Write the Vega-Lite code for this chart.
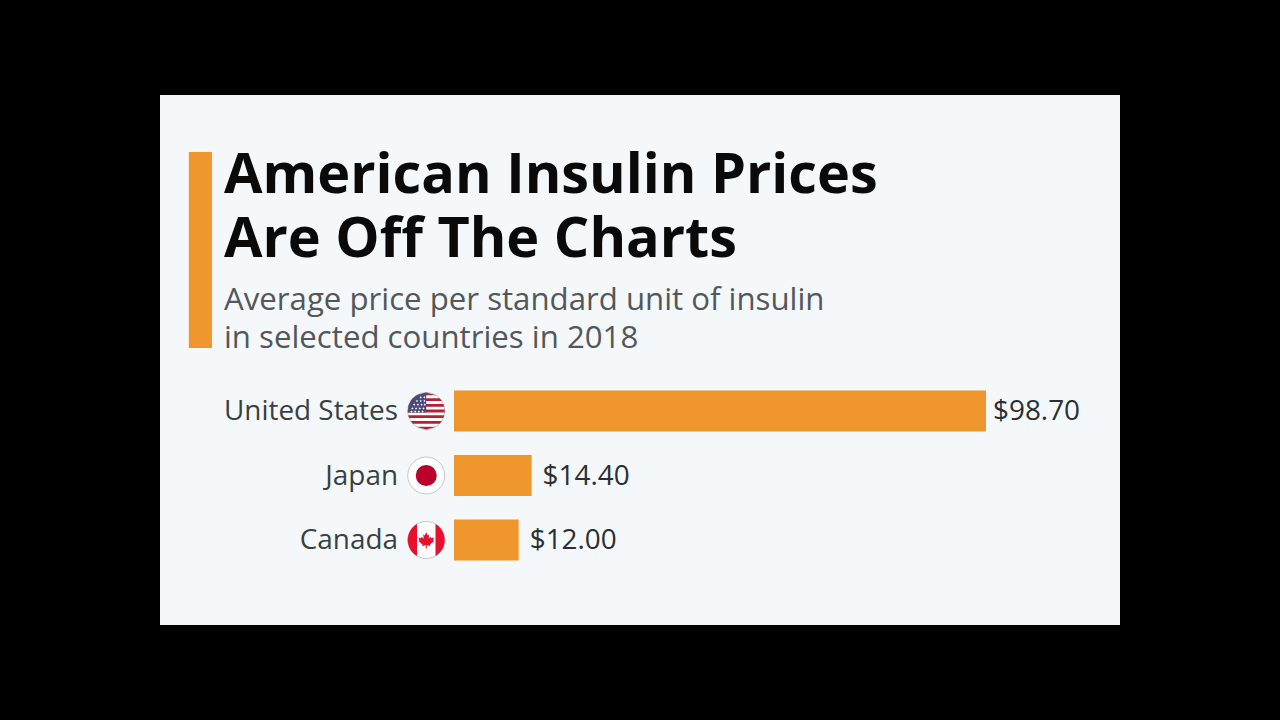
{
"$schema":"https://vega.github.io/schema/vega-lite/v6.json",
"width":960,"height":530,
"autosize":{"type":"none"},
"padding":{"left":160,"top":95,"right":160,"bottom":95},
"background":"#000000",
"view":{"fill":"#f4f8fb","stroke":null},
"title":{"text":["American Insulin Prices","Are Off The Charts"],"subtitle":["Average price per standard unit of insulin","in selected countries in 2018"],"anchor":"start","frame":"group","dx":64,"offset":-260,"font":"Open Sans","fontSize":55.8,"fontWeight":700,"lineHeight":64,"color":"#0a0a0a","subtitleFont":"Open Sans","subtitleFontSize":31.2,"subtitleFontWeight":400,"subtitleLineHeight":38,"subtitleColor":"#53575a","subtitlePadding":16.5},
"datasets":{
"prices":[{"country":"United States","price":98.7},{"country":"Japan","price":14.4},{"country":"Canada","price":12.0}],
"accent":[{"x0":-49.2,"x1":-44.9,"top":57,"bottom":253}]
},
"data":{"name":"prices"},
"encoding":{
"y":{"field":"country","type":"nominal","axis":null,"sort":null,"scale":{"domain":["United States","Japan","Canada"],"range":[283.75,477.25],"paddingInner":0.364,"paddingOuter":0.182}}
},
"resolve":{"scale":{"y":"independent"}},
"layer":[
{"data":{"name":"accent"},"mark":{"type":"rect","fill":"#ef962d"},
 "encoding":{"x":{"field":"x0","type":"quantitative","axis":null,"scale":{"domain":[-54.545,123.56],"nice":false,"zero":false}},"x2":{"field":"x1"},
 "y":{"field":"top","type":"quantitative","axis":null,"scale":{"domain":[0,530],"range":[0,530],"nice":false,"zero":false}},"y2":{"field":"bottom"}}},
{"mark":{"type":"bar","fill":"#ef962d"},"encoding":{"x":{"field":"price","type":"quantitative"}}},
{"mark":{"type":"text","align":"right","baseline":"middle","dx":-56,"dy":1,"font":"Open Sans","fontSize":27.9,"fill":"#3a3f42"},"encoding":{"x":{"datum":0,"type":"quantitative"},"text":{"field":"country"}}},
{"transform":[{"filter":"datum.price > 50"}],"mark":{"type":"text","align":"left","baseline":"middle","dx":7,"dy":1,"font":"Open Sans","fontSize":27.9,"fill":"#2b2f32"},"encoding":{"x":{"field":"price","type":"quantitative"},"text":{"field":"price","format":"$.2f"}}},
{"transform":[{"filter":"datum.price < 50"}],"mark":{"type":"text","align":"left","baseline":"middle","dx":11,"dy":1,"font":"Open Sans","fontSize":27.9,"fill":"#2b2f32"},"encoding":{"x":{"field":"price","type":"quantitative"},"text":{"field":"price","format":"$.2f"}}},
{"mark":{"type":"point","shape":"circle","filled":true,"fill":"#ffffff","stroke":"#c4c8cb","strokeWidth":1,"opacity":1,"size":1369},"encoding":{"x":{"datum":-5.15,"type":"quantitative"}}},
{"transform":[{"filter":"datum.country === 'United States'"}],"mark":{"type":"point","filled":true,"opacity":1,"size":1369,"fill":"#b22234","shape":"M0,-1L.533,-.846L-.533,-.846ZM-.722,-.692L.722,-.692L.843,-.538L-.843,-.538ZM-.923,-.385L.923,-.385L.973,-.231L-.973,-.231ZM-.997,-.077L.997,-.077L.997,.077L-.997,.077ZM-.973,.231L.973,.231L.923,.385L-.923,.385ZM-.843,.538L.843,.538L.722,.692L-.722,.692ZM-.533,.846L.533,.846L0,1Z"},"encoding":{"x":{"datum":-5.15,"type":"quantitative"}}},
{"transform":[{"filter":"datum.country === 'United States'"}],"mark":{"type":"point","filled":true,"opacity":1,"size":1369,"fill":"#4a4a7c","shape":"M0,-1L0,.077L-.997,.077L-.973,-.231L-.923,-.385L-.843,-.538L-.722,-.692L-.533,-.846Z"},"encoding":{"x":{"datum":-5.15,"type":"quantitative"}}},
{"transform":[{"filter":"datum.country === 'United States'"}],"mark":{"type":"point","filled":true,"opacity":1,"size":1369,"fill":"#ffffff","shape":"M-.3,-.8l.06,.06l-.06,.06l-.06,-.06zM-.1,-.8l.06,.06l-.06,.06l-.06,-.06zM-.5,-.6l.06,.06l-.06,.06l-.06,-.06zM-.3,-.6l.06,.06l-.06,.06l-.06,-.06zM-.1,-.6l.06,.06l-.06,.06l-.06,-.06zM-.65,-.4l.06,.06l-.06,.06l-.06,-.06zM-.45,-.4l.06,.06l-.06,.06l-.06,-.06zM-.25,-.4l.06,.06l-.06,.06l-.06,-.06zM-.08,-.4l.06,.06l-.06,.06l-.06,-.06zM-.75,-.2l.06,.06l-.06,.06l-.06,-.06zM-.55,-.2l.06,.06l-.06,.06l-.06,-.06zM-.35,-.2l.06,.06l-.06,.06l-.06,-.06zM-.15,-.2l.06,.06l-.06,.06l-.06,-.06zM-.8,-.03l.06,.06l-.06,.06l-.06,-.06zM-.6,-.03l.06,.06l-.06,.06l-.06,-.06zM-.4,-.03l.06,.06l-.06,.06l-.06,-.06zM-.2,-.03l.06,.06l-.06,.06l-.06,-.06z"},"encoding":{"x":{"datum":-5.15,"type":"quantitative"}}},
{"transform":[{"filter":"datum.country === 'Japan'"}],"mark":{"type":"point","shape":"circle","filled":true,"opacity":1,"size":441,"fill":"#bc002d"},"encoding":{"x":{"datum":-5.15,"type":"quantitative"}}},
{"transform":[{"filter":"datum.country === 'Canada'"}],"mark":{"type":"point","filled":true,"opacity":1,"size":1369,"fill":"#e8112d","shape":"M-.5,-.866L-.5,.866A1,1 0 0 1 -.5,-.866ZM.5,-.866L.5,.866A1,1 0 0 0 .5,-.866ZM0,-.42L.09,-.25L.17,-.3L.13,-.07L.24,-.18L.28,-.1L.42,-.13L.37,.02L.43,.06L.2,.24L.23,.32L.03,.29L.03,.46L-.03,.46L-.03,.29L-.23,.32L-.2,.24L-.43,.06L-.37,.02L-.42,-.13L-.28,-.1L-.24,-.18L-.13,-.07L-.17,-.3L-.09,-.25Z"},"encoding":{"x":{"datum":-5.15,"type":"quantitative"}}}
]
}
